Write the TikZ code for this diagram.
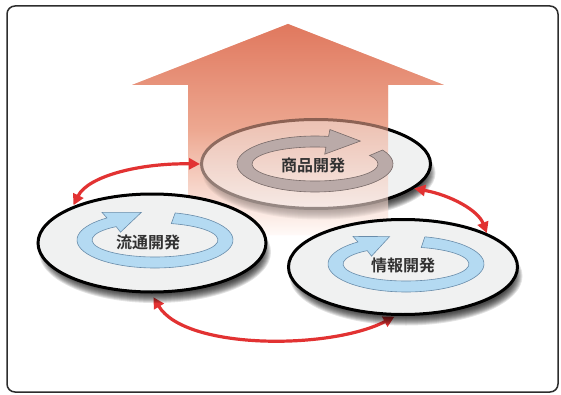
\documentclass[tikz,border=0pt]{standalone}
\usepackage{fontspec}
\newfontfamily\cjk{Noto Sans CJK JP}[BoldFont={Noto Sans CJK JP Bold}]
\usetikzlibrary{arrows.meta,calc,shapes.geometric}
\definecolor{redarr}{RGB}{226,50,50}
\definecolor{platecol}{RGB}{240,241,241}
\definecolor{ringfill}{RGB}{180,218,242}
\definecolor{ringline}{RGB}{105,140,170}
\definecolor{topring}{RGB}{186,170,168}
\definecolor{topringline}{RGB}{120,106,104}
\definecolor{arrtop}{RGB}{224,120,94}
\definecolor{arrmid}{RGB}{237,168,145}
\definecolor{arrbot}{RGB}{255,250,248}
\definecolor{txt}{RGB}{50,50,50}
\definecolor{framecol}{RGB}{45,45,45}

% soft drop shadow: center, rx, ry
\newcommand\softshadow[3]{%
  \foreach \k in {-7,-6,...,2} {
    \fill[black,opacity=0.11] ($(#1)+(3,-9)$) ellipse [x radius=#2+\k, y radius=#3+\k];
  }%
}
% circular arrow inside a plate: center, tail angle, head base angle, tip angle, fill, line
\newcommand\ringarrow[6]{%
  \filldraw[fill=#5, draw=#6, line width=0.6pt, line join=miter]
    ($(#1)+(#2:78 and 28)$) arc[start angle=#2, end angle=#3, x radius=78, y radius=28]
    -- ($(#1)+(#3:86 and 35)$) -- ($(#1)+(#4:79 and 28)$) -- ($(#1)+(#3:56 and 10)$)
    -- ($(#1)+(#3:63 and 17)$) arc[start angle=#3, end angle=#2, x radius=63, y radius=17]
    -- cycle;%
}

\begin{document}
\begin{tikzpicture}[x=1pt,y=1pt,
  plate/.style={ellipse, draw=black, line width=3pt, fill=platecol, inner sep=0pt},
  lbl/.style={font=\cjk\bfseries\fontsize{16}{17}\selectfont, text=txt, inner sep=0pt},
  link/.style={draw=redarr, line width=3.2pt,
    {Triangle[length=11pt,width=11pt]}-{Triangle[length=11pt,width=11pt]}},
]
\useasboundingbox (0,0) rectangle (561,394);
\fill[white] (0,0) rectangle (561,394);
\draw[framecol, line width=1.5pt, rounded corners=8pt] (7,2) rectangle (558,388);

% big upward arrow
\shade[top color=arrtop, bottom color=arrbot, middle color=arrmid]
  (188,159) -- (188,309) -- (132,309) -- (288,370) -- (444,309) -- (388,309) -- (388,159) -- cycle;

% top plate
\coordinate (Tc) at (316,230);
\softshadow{Tc}{114.5}{44.5}
\node[plate, minimum width=229pt, minimum height=89pt] (T) at (Tc) {};

% arrow overlay (semi-transparent over the top plate)
\shade[top color=arrtop, bottom color=arrbot, middle color=arrmid, opacity=0.6]
  (188,159) -- (188,309) -- (132,309) -- (288,370) -- (444,309) -- (388,309) -- (388,159) -- cycle;

\coordinate (Tr) at (315,230);
\ringarrow{Tr}{30}{-280}{-305}{topring}{topringline}
\node[lbl] (tT) at (313,229) {商品開発};

% bottom link (below the shadows of the two lower plates)
\coordinate (Lb) at (150.3,102);
\coordinate (Rb) at (398.9,79.6);
\draw[link, shorten <=6pt, shorten >=5pt] (Lb) .. controls (185,44) and (330,44) .. (Rb);

% left plate
\coordinate (Lc) at (152,151);
\softshadow{Lc}{114}{49}
\node[plate, minimum width=228pt, minimum height=98pt] (L) at (Lc) {};
\coordinate (Lr) at (155,154);
\ringarrow{Lr}{75}{-232}{-260}{ringfill}{ringline}
\node[lbl] (tL) at (148,152) {流通開発};

% right plate
\coordinate (Rc) at (403,127);
\softshadow{Rc}{114.5}{47.5}
\node[plate, minimum width=229pt, minimum height=95pt] (R) at (Rc) {};
\coordinate (Rr) at (406,130);
\ringarrow{Rr}{76}{-232}{-258}{ringfill}{ringline}
\node[lbl] (tR) at (403,129) {情報開発};

% upper links
\draw[link, shorten <=1pt] (L.155) .. controls (88,218) and (140,231) .. (T.180);
\draw[link] (T.-14) .. controls (450,199) and (478,184) .. (R.22);
\end{tikzpicture}
\end{document}
